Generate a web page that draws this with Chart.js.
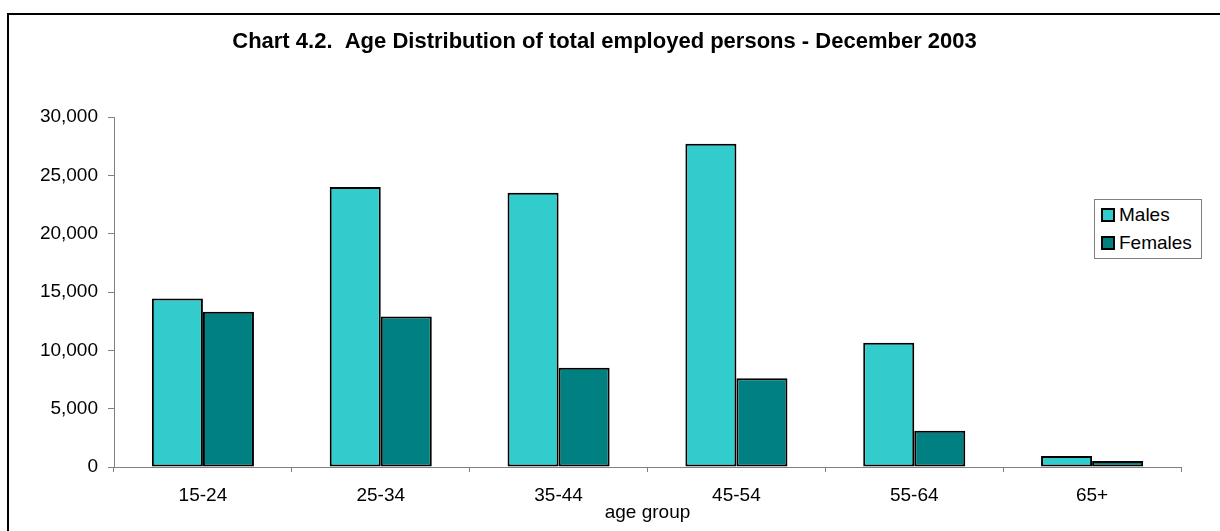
<!DOCTYPE html>
<html>
<head>
<meta charset="utf-8">
<script src="https://cdn.jsdelivr.net/npm/chart.js@4"></script>
<style>
    body { margin: 0; width: 1220px; height: 531px; overflow: hidden; background: #fff; position: relative; font-family: "Liberation Sans", Arial, sans-serif; }
    #frame { position: absolute; left: 7px; top: 13px; width: 1300px; height: 600px; border: 2px solid #000; }
    #wrap { position: absolute; left: 0; top: 0; width: 1220px; height: 531px; }
    #legend { position: absolute; left: 1094px; top: 199px; width: 106px; height: 58px; border: 1px solid #808080; background: #fff; font-size: 19px; color: #000; }
    #legend div { position: absolute; left: 6px; height: 20px; line-height: 20px; }
    #legend span { display: inline-block; width: 10px; height: 10px; border: 2px solid #000; vertical-align: -1px; margin-right: 4px; }
</style>
</head>
<body>
<div id="frame"></div>
<div id="wrap"><canvas id="chart" width="1220" height="531"></canvas></div>
<div id="legend"></div>

<script>
let ageGroups = ["15-24", "25-34", "35-44", "45-54", "55-64", "65+"];
let males = [14450, 24000, 23500, 27700, 10650, 950];
let females = [13300, 12900, 8500, 7600, 3100, 520];
let yTicks = [0, 5000, 10000, 15000, 20000, 25000, 30000];

let colMales = "#33CCCC";
let colFemales = "#008080";

// legend (html, top right)
let legend = document.getElementById("legend");
[["Males", colMales, 5], ["Females", colFemales, 33]].forEach(([nama, warna, top]) => {
    let d = document.createElement("div");
    d.style.top = top + "px";
    d.innerHTML = `<span style="background:${warna}"></span>${nama}`;
    legend.appendChild(d);
});

let font = { family: "'Liberation Sans', Arial, sans-serif", size: 19, lineHeight: 1 };

let ctx = document.getElementById("chart").getContext("2d");
let chart = new Chart(ctx, {
    type: "bar",
    data: {
        labels: ageGroups,
        datasets: [
            { label: "Males", data: males, backgroundColor: colMales },
            { label: "Females", data: females, backgroundColor: colFemales }
        ]
    },
    options: {
        responsive: false,
        animation: false,
        layout: { padding: { left: 28, right: 39, top: 0, bottom: 9 } },
        datasets: {
            bar: {
                borderColor: "#000",
                borderWidth: 2,
                borderSkipped: false,
                barPercentage: 1,
                categoryPercentage: 0.574
            }
        },
        plugins: {
            legend: { display: false },
            tooltip: { enabled: false },
            title: {
                display: true,
                text: "Chart 4.2.  Age Distribution of total employed persons - December 2003",
                color: "#000",
                font: { family: font.family, size: 22, weight: "bold", lineHeight: 1 },
                padding: { top: 31, bottom: 64 }
            }
        },
        scales: {
            x: {
                grid: { drawOnChartArea: false, drawTicks: true, tickLength: 5, color: "#808080", offset: true },
                border: { color: "#808080", width: 1 },
                ticks: { color: "#000", font: font, padding: 14 },
                title: { display: true, text: "age group", color: "#000", font: font, padding: { top: -16, bottom: 0 } }
            },
            y: {
                min: 0,
                max: 30000,
                afterFit: s => { s.width = 86; },
                afterBuildTicks: s => { s.ticks = yTicks.map(v => ({ value: v })); },
                grid: { drawOnChartArea: false, drawTicks: true, tickLength: 6, color: "#808080" },
                border: { color: "#808080", width: 1 },
                ticks: {
                    color: "#000",
                    font: font,
                    padding: 10,
                    callback: v => v.toLocaleString("en-US")
                }
            }
        }
    }
});
</script>
</body>
</html>
